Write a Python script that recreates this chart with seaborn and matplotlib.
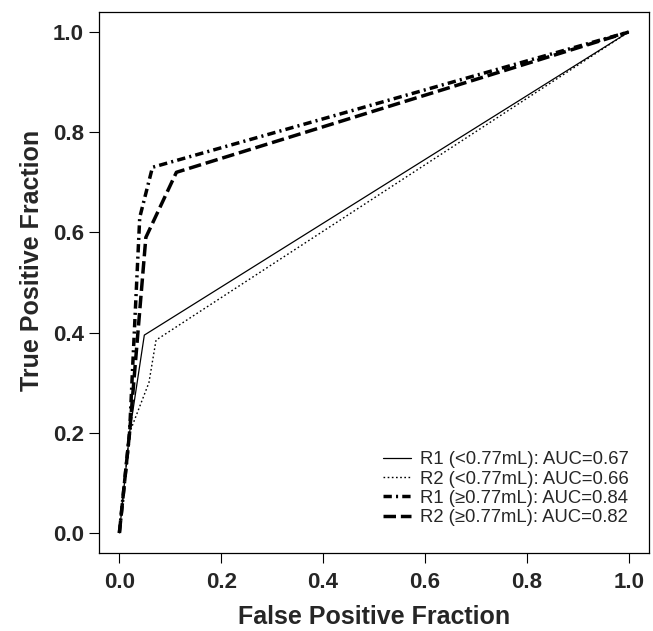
import matplotlib
matplotlib.use("Agg")
import matplotlib.pyplot as plt
import seaborn as sns
import pandas as pd

# ROC curve vertices
r1_small_fpf = [0.0, 0.02, 0.049, 1.0]
r1_small_tpf = [0.0, 0.20, 0.395, 1.0]
r2_small_fpf = [0.0, 0.02, 0.058, 0.072, 1.0]
r2_small_tpf = [0.0, 0.20, 0.30, 0.385, 1.0]
r1_large_fpf = [0.0, 0.02, 0.04, 0.065, 1.0]
r1_large_tpf = [0.0, 0.20, 0.63, 0.73, 1.0]
r2_large_fpf = [0.0, 0.02, 0.052, 0.112, 1.0]
r2_large_tpf = [0.0, 0.20, 0.59, 0.72, 1.0]

labels = ["R1 (<0.77mL): AUC=0.67", "R2 (<0.77mL): AUC=0.66",
          "R1 (\u22650.77mL): AUC=0.84", "R2 (\u22650.77mL): AUC=0.82"]
tick_vals = [0.0, 0.2, 0.4, 0.6, 0.8, 1.0]
tick_labels = ["0.0", "0.2", "0.4", "0.6", "0.8", "1.0"]

sns.set_theme(style="white")
plt.rcParams['font.family'] = ['Liberation Sans', 'DejaVu Sans']
plt.rcParams['lines.scale_dashes'] = False

fig = plt.figure(figsize=(6.53, 6.31), dpi=100)
ax = fig.add_axes([99/653, 1-553/631, (649-99)/653, (553-12)/631])

series = [
    (r1_small_fpf, r1_small_tpf, labels[0], "-", 0.9),
    (r2_small_fpf, r2_small_tpf, labels[1], (0, (1.2, 1.8)), 1.0),
    (r1_large_fpf, r1_large_tpf, labels[2], (0, (6, 3, 1.5, 3)), 2.5),
    (r2_large_fpf, r2_large_tpf, labels[3], (0, (9, 3.5)), 2.5),
]
for fx, ty, lab, ls, lw in series:
    df = pd.DataFrame({"fpf": fx, "tpf": ty})
    sns.lineplot(data=df, x="fpf", y="tpf", ax=ax, sort=False, estimator=None,
                 color="black", linestyle=ls, linewidth=lw, label=lab)

ax.set_xlim(-0.04, 1.04)
ax.set_ylim(-0.04, 1.04)
ax.set_xticks(tick_vals)
ax.set_xticklabels(tick_labels, fontweight="bold", fontsize=16)
ax.set_yticks(tick_vals)
ax.set_yticklabels(tick_labels, fontweight="bold", fontsize=16)
ax.tick_params(axis="both", direction="out", length=7, width=0.8, color="black",
               bottom=True, left=True, pad=4)
ax.tick_params(axis="x", pad=7)
for s in ax.spines.values():
    s.set_color("black")
    s.set_linewidth(0.9)

ax.set_xlabel("False Positive Fraction", fontsize=18, fontweight="bold", labelpad=8)
ax.set_ylabel("True Positive Fraction", fontsize=18, fontweight="bold")
ax.yaxis.set_label_coords(-0.1, 0.54)

leg = ax.legend(loc="lower right", frameon=False, fontsize=13.3, handlelength=1.5,
                handletextpad=0.5, labelspacing=0.12, borderpad=0, borderaxespad=0,
                bbox_to_anchor=(629/653, 1-526/631), bbox_transform=fig.transFigure)

fig.savefig("out.png", dpi=100)
